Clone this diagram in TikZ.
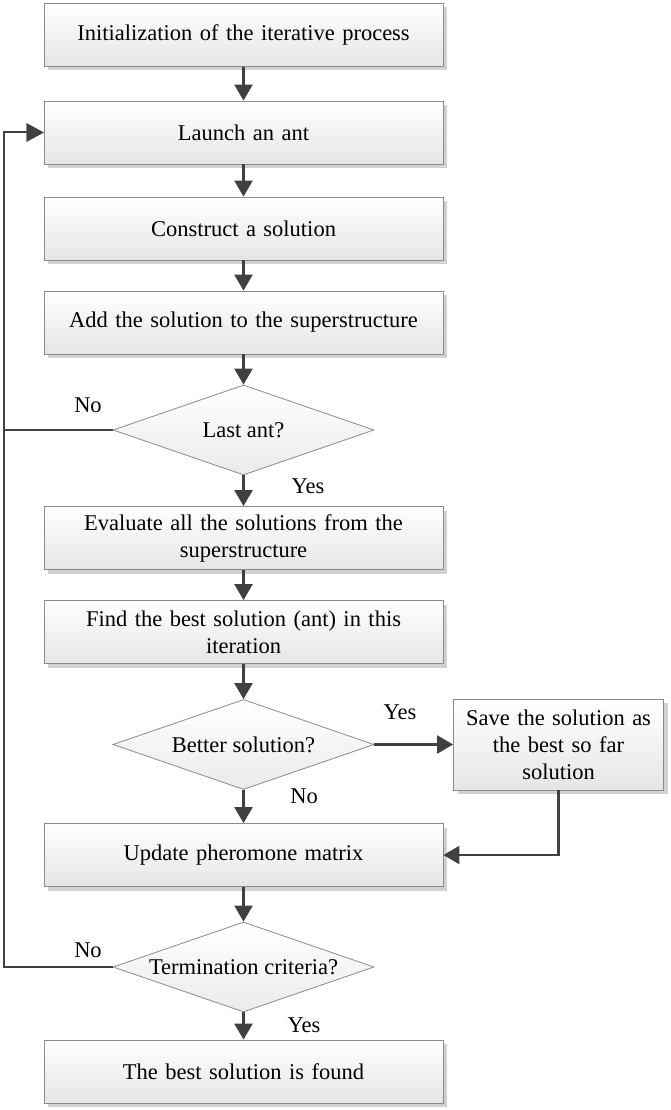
\documentclass[tikz,border=0pt]{standalone}
\usepackage{fontspec}
\setmainfont{Liberation Serif}
\usetikzlibrary{shapes.geometric,arrows.meta,shadows}

\definecolor{linegray}{HTML}{404040}
\definecolor{edgegray}{HTML}{8A8A8A}

\tikzset{
  procbox/.style={draw=edgegray, line width=0.8pt, top color=white, bottom color=black!10,
    minimum width=399pt, minimum height=63pt, inner sep=2pt, align=center, text width=385pt,
    drop shadow={shadow xshift=4pt, shadow yshift=-4pt, fill=black!18, opacity=1}},
  decision/.style={diamond, draw=edgegray, line width=0.8pt, top color=white, bottom color=black!8,
    aspect=2.9, inner sep=0pt, minimum width=261pt, minimum height=90pt},
  flow/.style={draw=linegray, line width=2.4pt, -{Triangle[length=16pt,width=18pt]}},
  loopline/.style={draw=linegray, line width=2pt, -{Triangle[length=17pt,width=18pt]}},
  answer/.style={font=\fontsize{22.5}{27}\selectfont}
}

\begin{document}
\begin{tikzpicture}[x=1pt, y=1pt, font=\fontsize{22.5}{27}\selectfont]
\useasboundingbox (0,0) rectangle (670,-1110);

% Main column
\node[procbox] (init) at (243.5,-35) {Initialization of the iterative process};
\node[procbox] (launch) at (243.5,-132.5) {Launch an ant};
\node[procbox] (construct) at (243.5,-228.5) {Construct a solution};
\node[procbox] (addsol) at (243.5,-322.5) {Add the solution to the superstructure};
\node[decision] (lastant) at (243.5,-430) {Last ant?};
\node[procbox] (evaluate) at (243.5,-538) {Evaluate all the solutions from the\\superstructure};
\node[procbox] (findbest) at (243.5,-632) {Find the best solution (ant) in this\\iteration};
\node[decision] (better) at (243.5,-744.5) {Better solution?};
\node[procbox] (update) at (243.5,-855) {Update pheromone matrix};
\node[decision] (termin) at (243.5,-967) {Termination criteria?};
\node[procbox] (found) at (243.5,-1071.5) {The best solution is found};

% Side box
\node[procbox, minimum width=210pt, minimum height=91pt, text width=200pt] (savebest) at (558.5,-744.5)
  {Save the solution as\\the best so far\\solution};

% Loop line
\coordinate (loopx) at (4,0);

% Arrows
\draw[flow] (init) -- (launch);
\draw[flow] (launch) -- (construct);
\draw[flow] (construct) -- (addsol);
\draw[flow] (addsol) -- (lastant);
\draw[flow] (lastant) -- (evaluate);
\draw[flow] (evaluate) -- (findbest);
\draw[flow] (findbest) -- (better);
\draw[flow] (better) -- (update);
\draw[flow] (better) -- (savebest);
\draw[flow] (savebest.south) |- (update.east);
\draw[flow] (update) -- (termin);
\draw[flow] (termin) -- (found);
\draw[loopline] (lastant.west) -- (lastant.west -| loopx) |- (launch.west);
\draw[loopline] (termin.west) -- (termin.west -| loopx) |- (launch.west);

% Labels
\node[answer] (no1) at (88,-405) {No};
\node[answer] (yes1) at (308,-486) {Yes};
\node[answer] (yes2) at (400,-712) {Yes};
\node[answer] (no2) at (304,-796) {No};
\node[answer] (no3) at (88,-950) {No};
\node[answer] (yes3) at (304,-1025) {Yes};
\end{tikzpicture}
\end{document}
